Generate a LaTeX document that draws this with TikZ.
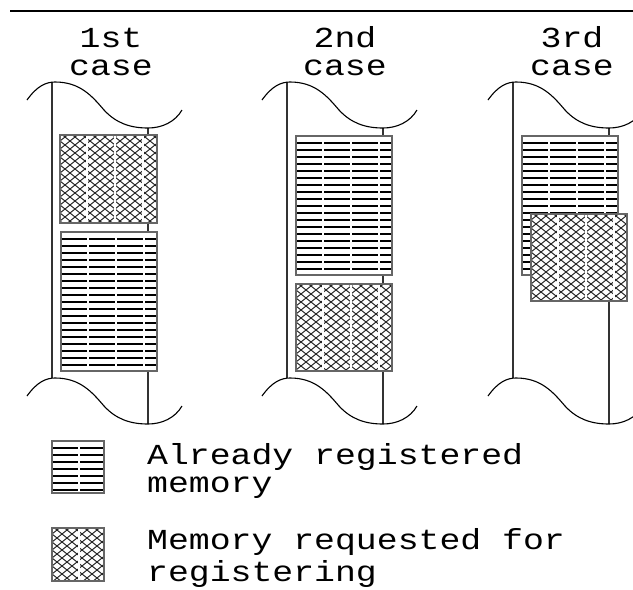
\documentclass[tikz,border=0pt]{standalone}
\usepackage{fontspec}
\setmainfont{Liberation Mono}[FakeStretch=1.2]
\begin{document}
\begin{tikzpicture}[x=1pt,y=-1pt,
  rule/.style={line width=2pt,black},
  bound/.style={line width=1.1pt,black!80},
  wave/.style={line width=1.1pt,black},
  regline/.style={line width=2pt,black},
  reqline/.style={line width=1pt,black!85},
  gapline/.style={line width=1.2pt,white},
  boxedge/.style={line width=1.3pt,black!60},
  title/.style={anchor=base,inner sep=0pt,font=\fontsize{29}{28}\selectfont},
  legend/.style={anchor=base west,inner sep=0pt,font=\fontsize{29}{28}\selectfont}]

\newcommand\memwave{%
  (-25,18) .. controls (-15,4) and (-6,0) .. (3,0)
           .. controls (28,0) and (40,14) .. (52,28)
           .. controls (64,41) and (78,46) .. (96,46)
           .. controls (110,46) and (123,40) .. (130,28)}

% block of memory that is already registered: horizontal bars
\newcommand\regbox[4]{%
  \fill[white] (#1,#2) rectangle (#3,#4);
  \begin{scope}
    \clip (#1,#2) rectangle (#3,#4);
    \foreach \k in {0,...,40} \draw[regline] (#1,#2+7*\k) -- (#3,#2+7*\k);
    \foreach \k in {0,...,4} \draw[gapline] (#1+27+28*\k,#2) -- (#1+27+28*\k,#4);
  \end{scope}
  \draw[boxedge] (#1,#2) rectangle (#3,#4);}

% block of memory requested for registering: diamond mesh
\newcommand\reqbox[4]{%
  \fill[white] (#1,#2) rectangle (#3,#4);
  \begin{scope}
    \clip (#1,#2) rectangle (#3,#4);
    \foreach \k in {0,...,36} {
      \draw[reqline] (#1+10*\k-200,#2-2) -- ++(250,200);
      \draw[reqline] (#1+10*\k,#2-2) -- ++(-250,200);
    }
    \foreach \k in {0,...,4} \draw[gapline] (#1+27+28*\k,#2) -- (#1+27+28*\k,#4);
  \end{scope}
  \draw[boxedge] (#1,#2) rectangle (#3,#4);}

% memory strip between two torn edges
\newcommand\strip{%
  \draw[bound] (0,0) -- (0,296);
  \draw[bound] (96,46) -- (96,342);
  \draw[wave] \memwave;
  \begin{scope}[yshift=-296pt]\draw[wave] \memwave;\end{scope}}

\useasboundingbox (0,0) rectangle (633,590);
\clip (0,0) rectangle (633,590);
\fill[white] (0,0) rectangle (633,590);

\draw[rule] (10,11) -- (633,11);

% 1st case
\node[title] (t1a) at (111,47) {1st};
\node[title] (t1b) at (111,75) {case};
\begin{scope}[shift={(52,82)}]
  \strip
  \reqbox{8}{53}{105}{141}
  \regbox{9}{150}{105}{289}
\end{scope}

% 2nd case
\node[title] (t2a) at (345,47) {2nd};
\node[title] (t2b) at (345,75) {case};
\begin{scope}[shift={(287,82)}]
  \strip
  \regbox{9}{54}{105}{193}
  \reqbox{9}{202}{105}{289}
\end{scope}

% 3rd case
\node[title] (t3a) at (572,47) {3rd};
\node[title] (t3b) at (572,75) {case};
\begin{scope}[shift={(513,82)}]
  \strip
  \regbox{9}{54}{105}{193}
  \reqbox{18}{132}{114}{219}
\end{scope}

% legend
\regbox{52}{441}{104}{493}
\node[legend] (l1a) at (147,464) {Already registered};
\node[legend] (l1b) at (147,492) {memory};
\reqbox{52}{528}{104}{581}
\node[legend] (l2a) at (147,549) {Memory requested for};
\node[legend] (l2b) at (147,581) {registering};
\end{tikzpicture}
\end{document}
